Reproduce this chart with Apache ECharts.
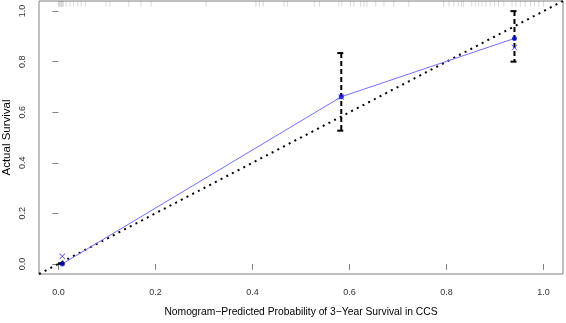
<!DOCTYPE html>
<html>
<head>
<meta charset="utf-8">
<script src="https://cdn.jsdelivr.net/npm/echarts@6/dist/echarts.min.js"></script>
<style>html,body{margin:0;padding:0;background:#fff}#c{width:566px;height:323px}</style>
</head>
<body>
<div id="c"></div>
<script>
// ---- data ----
const tickValues = [0, 0.2, 0.4, 0.6, 0.8, 1.0];
const axisMin = -0.04, axisMax = 1.04;
// calibration groups: mean predicted, observed, bias-corrected, CI
const predicted = [0.008, 0.583, 0.940];
const observed = [0.000, 0.661, 0.892];
const corrected = [0.030, 0.660, 0.856];
const ciLow = [0.000, 0.527, 0.800];
const ciHigh = [0.003, 0.834, 1.000];
// distribution of predicted probabilities (rug at top)
const rugValues = [0.000, 0.002, 0.004, 0.006, 0.008, 0.010, 0.016, 0.024, 0.031, 0.040, 0.047, 0.056,
  0.098, 0.106, 0.145, 0.170, 0.191, 0.304, 0.407, 0.414, 0.422, 0.465, 0.472, 0.527, 0.538,
  0.578, 0.584, 0.602, 0.609, 0.623, 0.630, 0.636, 0.654, 0.671, 0.691, 0.722,
  0.794, 0.805, 0.815, 0.824, 0.831, 0.835, 0.852, 0.859, 0.866, 0.873, 0.881, 0.890, 0.899,
  0.907, 0.918, 0.935, 0.943, 0.952, 0.962, 0.973, 0.981, 0.990, 1.000];
const xTitle = 'Nomogram\u2212Predicted Probability of 3\u2212Year Survival in CCS';
const yTitle = 'Actual Survival';

const chart = echarts.init(document.getElementById('c'), null, {renderer: 'canvas'});
const font = 'Liberation Sans, Arial, sans-serif';
const gray = '#808080';

function axis(name, isY) {
  return {
    type: 'value', min: axisMin, max: axisMax,
    name: name, nameLocation: 'middle', nameGap: isY ? 26 : 33,
    nameMoveOverlap: isY ? false : true,
    nameTextStyle: {fontFamily: font, fontSize: isY ? 11.5 : 10.3, color: '#000'},
    axisLine: {show: false},
    axisTick: {show: true, customValues: tickValues, length: 6, lineStyle: {color: gray, width: 1}},
    axisLabel: Object.assign({show: true, customValues: tickValues, formatter: v => v.toFixed(1),
      fontFamily: font, fontSize: 9, color: '#333', margin: isY ? 12 : 14,
      rotate: isY ? 90 : 0}, isY ? {align: 'center', verticalAlign: 'bottom'} : {}),
    splitLine: {show: false}
  };
}

const xSym = 'path://M0,1L1,0L5,4L9,0L10,1L6,5L10,9L9,10L5,6L1,10L0,9L4,5Z';

chart.setOption({
  animation: false,
  grid: {left: 39, right: 3, top: 1, bottom: 49, show: true, borderColor: gray, borderWidth: 1,
    backgroundColor: 'transparent', containLabel: false, outerBoundsMode: 'none'},
  xAxis: axis(xTitle, false),
  yAxis: axis(yTitle, true),
  series: [
    {type: 'scatter', data: rugValues.map(v => [v, axisMax]), symbol: 'rect', symbolSize: [1, 6],
      symbolOffset: [0, 3], itemStyle: {color: 'rgba(0,0,0,0.18)'}, clip: false, z: 1, silent: true},
    {type: 'line', data: [[axisMin, axisMin], [axisMax, axisMax]], symbol: 'none',
      lineStyle: {color: '#000', width: 2, type: [2, 4.4], cap: 'butt'}, z: 2},
    {type: 'line', data: predicted.map((p, i) => [p, observed[i]]), symbol: 'none',
      lineStyle: {color: '#7070ff', width: 1}, z: 3},
    {type: 'custom', data: predicted.map((p, i) => [p, ciLow[i], ciHigh[i]]),
      encode: {x: 0, y: [1, 2]}, z: 4,
      renderItem: (params, api) => {
        const t = api.coord([api.value(0), api.value(2)]);
        const b = api.coord([api.value(0), api.value(1)]);
        const st = {stroke: '#000', lineWidth: 2};
        return {type: 'group', children: [
          {type: 'line', shape: {x1: t[0], y1: t[1], x2: b[0], y2: b[1]}, style: Object.assign({lineDash: [5, 3]}, st)},
          {type: 'line', shape: {x1: t[0] - 4, y1: t[1], x2: t[0] + 2, y2: t[1]}, style: st},
          {type: 'line', shape: {x1: b[0] - 4, y1: b[1], x2: b[0] + 2, y2: b[1]}, style: st}
        ]};
      }},
    {type: 'scatter', data: predicted.map((p, i) => [p, observed[i]]), symbol: 'circle', symbolSize: 5,
      itemStyle: {color: '#0000cc'}, z: 5},
    {type: 'scatter', data: predicted.map((p, i) => [p, corrected[i]]), symbol: xSym, symbolSize: 6,
      itemStyle: {color: '#3535ff'}, z: 6}
  ]
});
</script>
</body>
</html>
